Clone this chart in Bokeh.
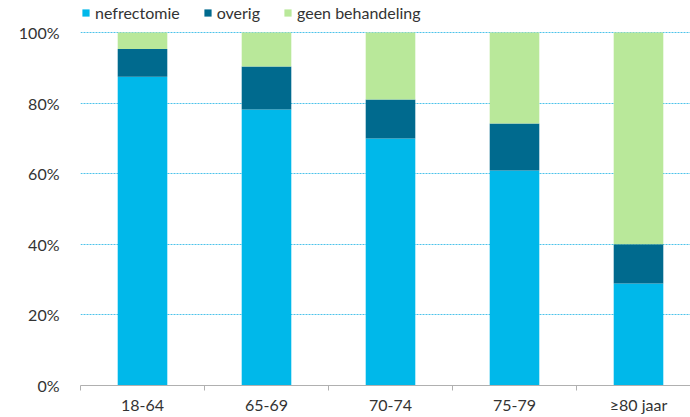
from bokeh.plotting import figure
from bokeh.models import (ColumnDataSource, FixedTicker, Range1d, Legend, LegendItem,
                          CustomJSTickFormatter)
from bokeh.embed import file_html
from bokeh.resources import INLINE

categories = ["18-64", "65-69", "70-74", "75-79", "\u226580 jaar"]
nefrectomie = [87.5, 78.2, 70.0, 60.9, 28.9]
overig = [7.8, 12.2, 11.0, 13.3, 11.1]
geen_behandeling = [4.7, 9.6, 19.0, 25.8, 60.0]
series_names = ["nefrectomie", "overig", "geen behandeling"]
colors = ["#00b8ea", "#006a8e", "#b9e89a"]

x = [i + 0.5 for i in range(len(categories))]
src = ColumnDataSource(dict(x=x, nefrectomie=nefrectomie, overig=overig,
                            geen_behandeling=geen_behandeling))

FONT = "Lato"
TXT = "#333333"

# frame spans the full height above the x axis; 100% sits 32px below its top
p = figure(width=690, height=417, output_backend="svg", toolbar_location=None,
           x_range=Range1d(0, 610 / 124), y_range=Range1d(0, 100 * 385 / 353),
           min_border_left=80, min_border_right=0, min_border_top=0, min_border_bottom=32)
p.outline_line_color = None

renderers = p.vbar_stack(["nefrectomie", "overig", "geen_behandeling"], x="x", width=0.4,
                         source=src, color=colors, line_color=None)

legend = Legend(items=[LegendItem(label=n, renderers=[r]) for n, r in zip(series_names, renderers)],
                orientation="horizontal", location=(1, 363), margin=0, padding=0,
                spacing=23, label_standoff=5, glyph_width=9, glyph_height=9,
                label_height=14, label_text_font=FONT, label_text_font_size="16px",
                label_text_color=TXT, background_fill_alpha=0, border_line_color=None)
p.add_layout(legend, "center")

# x axis
p.xaxis.ticker = FixedTicker(ticks=x, minor_ticks=[0, 1, 2, 3, 4])
p.xaxis.major_label_overrides = {xx: c for xx, c in zip(x, categories)}
p.xaxis.major_tick_line_color = None
p.xaxis.minor_tick_out = 5
p.xaxis.minor_tick_in = 0
p.xaxis.minor_tick_line_color = "#b0b0b0"
p.xaxis.axis_line_color = "#b0b0b0"
p.xaxis.major_label_text_font = FONT
p.xaxis.major_label_text_font_size = "16px"
p.xaxis.major_label_text_color = TXT
p.xaxis.major_label_standoff = 3

# y axis
p.yaxis.ticker = FixedTicker(ticks=[0, 20, 40, 60, 80, 100])
p.yaxis.formatter = CustomJSTickFormatter(code="return tick + '%'")
p.yaxis.axis_line_color = None
p.yaxis.major_tick_line_color = None
p.yaxis.minor_tick_line_color = None
p.yaxis.major_label_text_font = FONT
p.yaxis.major_label_text_font_size = "16px"
p.yaxis.major_label_text_color = TXT
p.yaxis.major_label_standoff = 15

p.xgrid.grid_line_color = None
p.ygrid.ticker = FixedTicker(ticks=[20, 40, 60, 80, 100])
p.ygrid.grid_line_color = "#4cc3ea"
p.ygrid.grid_line_dash = "2 1"
p.ygrid.grid_line_width = 1

open("out.html", "w").write(file_html(p, INLINE))
